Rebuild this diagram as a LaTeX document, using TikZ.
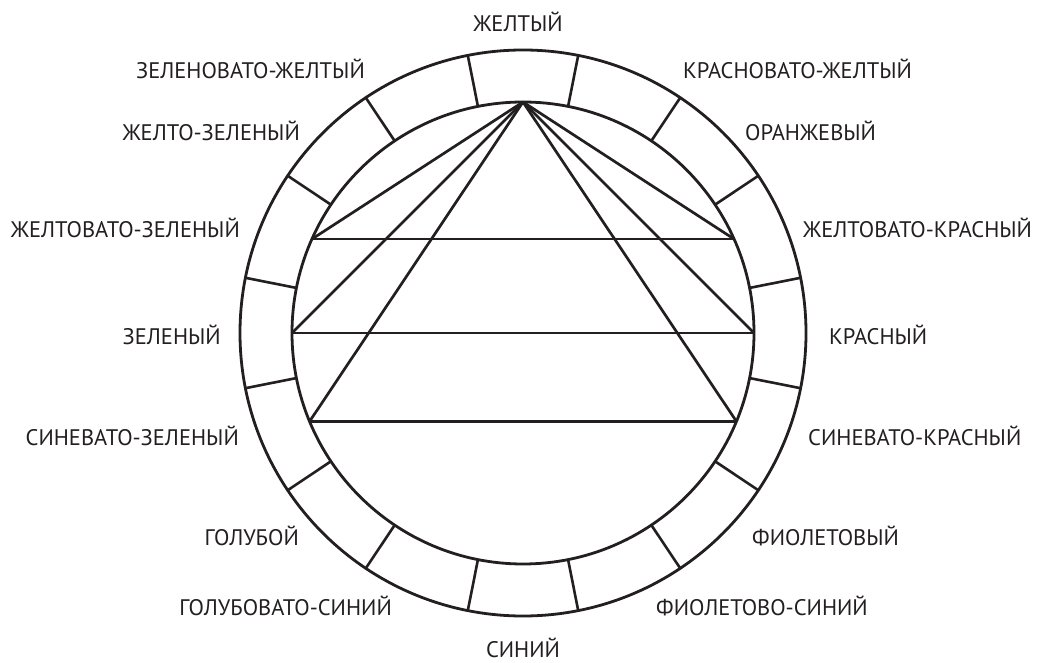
\documentclass[tikz,border=0pt]{standalone}
\usepackage{fontspec}
\setmainfont{PT Sans}
\usetikzlibrary{calc}
\definecolor{ink}{HTML}{231F20}
\begin{document}
\begin{tikzpicture}[x=1pt,y=1pt,
  ring/.style={draw=ink,line width=2.8pt},
  seg/.style={draw=ink,line width=2.6pt},
  chord/.style={draw=ink,line width=2.7pt,line join=miter},
  lbl/.style={text=ink,inner sep=0pt,text height=15pt,text depth=0pt,font=\fontsize{22.5}{24}\selectfont}]
\useasboundingbox (0,0) rectangle (1038,662);
\coordinate (c) at (523,329);
\draw[ring] (c) circle (283);
\draw[ring] (c) circle (231);
\foreach \k in {0,...,15}{
  \pgfmathsetmacro{\a}{11.25+22.5*\k}
  \draw[seg] ($(c)+(\a:231)$) -- ($(c)+(\a:283)$);
}
\coordinate (ap) at ($(c)+(90:231)$);
\coordinate (l1) at ($(c)+(156:231)$);
\coordinate (l2) at ($(c)+(180:231)$);
\coordinate (l3) at ($(c)+(202.5:231)$);
\coordinate (r1) at ($(c)+(24:231)$);
\coordinate (r2) at ($(c)+(0:231)$);
\coordinate (r3) at ($(c)+(-22.5:231)$);
\foreach \p in {l1,l2,l3,r1,r2,r3}{\draw[chord] (ap) -- (\p);}
\draw[chord] (l1) -- (r1);
\draw[chord] (l2) -- (r2);
\draw[chord] (l3) -- (r3);
% labels
\node[lbl] (n0) at (518,637.5) {ЖЕЛТЫЙ};
\node[lbl,anchor=east] (n1) at (365,591) {ЗЕЛЕНОВАТО-ЖЕЛТЫЙ};
\node[lbl,anchor=east] (n2) at (300,529) {ЖЕЛТО-ЗЕЛЕНЫЙ};
\node[lbl,anchor=east] (n3) at (240,432) {ЖЕЛТОВАТО-ЗЕЛЕНЫЙ};
\node[lbl,anchor=east] (n4) at (221,325) {ЗЕЛЕНЫЙ};
\node[lbl,anchor=east] (n5) at (239,224) {СИНЕВАТО-ЗЕЛЕНЫЙ};
\node[lbl,anchor=east] (n6) at (299,124) {ГОЛУБОЙ};
\node[lbl,anchor=east] (n7) at (392,54) {ГОЛУБОВАТО-СИНИЙ};
\node[lbl] (n8) at (523,12) {СИНИЙ};
\node[lbl,anchor=west] (n9) at (656,54) {ФИОЛЕТОВО-СИНИЙ};
\node[lbl,anchor=west] (n10) at (752,124) {ФИОЛЕТОВЫЙ};
\node[lbl,anchor=west] (n11) at (808,224) {СИНЕВАТО-КРАСНЫЙ};
\node[lbl,anchor=west] (n12) at (829,325) {КРАСНЫЙ};
\node[lbl,anchor=west] (n13) at (803,432) {ЖЕЛТОВАТО-КРАСНЫЙ};
\node[lbl,anchor=west] (n14) at (745,529) {ОРАНЖЕВЫЙ};
\node[lbl,anchor=west] (n15) at (683,591) {КРАСНОВАТО-ЖЕЛТЫЙ};
\end{tikzpicture}
\end{document}
